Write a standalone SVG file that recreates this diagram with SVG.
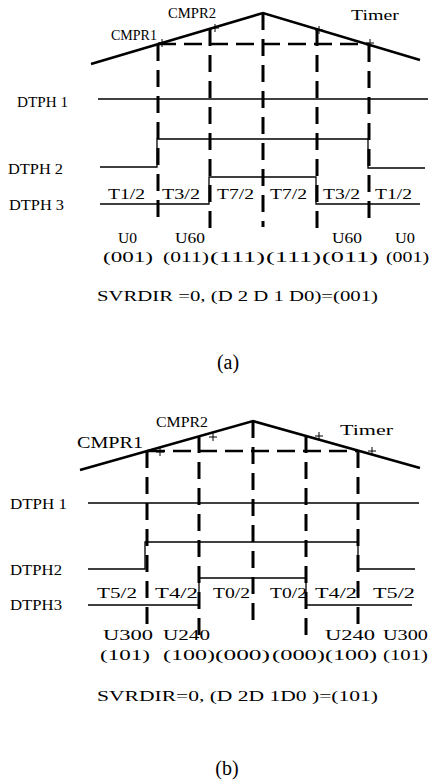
<svg xmlns="http://www.w3.org/2000/svg" width="432" height="784" viewBox="0 0 432 784">
<style>
.tri{fill:none;stroke:#000;stroke-width:2.6}
.dv{stroke:#000;stroke-width:3;stroke-dasharray:17 9;fill:none}
.dh{stroke:#000;stroke-width:2.5;stroke-dasharray:18 8;fill:none}
.sig{fill:none;stroke:#000;stroke-width:1.3}
.pl{stroke:#000;stroke-width:1;fill:none}
text{font-family:"Liberation Serif",serif;font-size:15px;fill:#000}
.cap{font-size:20px}
.big{font-size:17px}
.sm{font-size:14px}
</style>
<rect width="432" height="784" fill="#fff"/>
<g id="diagram-a">
<g id="a-timer">
<path class="tri" d="M91 64 L263 13 L420 60"/>
<path class="dh" d="M158 44 H369"/>
<path class="pl" d="M158 43 h8 M162 39 v8 M211 28 h8 M215 24 v8 M315 30 h8 M319 26 v8 M366 43 h8 M370 39 v8"/>
<text x="111" y="40" textLength="46" lengthAdjust="spacingAndGlyphs">CMPR1</text>
<text x="168" y="18" textLength="48" lengthAdjust="spacingAndGlyphs">CMPR2</text>
<text x="351" y="20" textLength="48" lengthAdjust="spacingAndGlyphs">Timer</text>
</g>
<g id="a-connectors">
<path class="dv" d="M158 44 V226"/>
<path class="dv" d="M210 29 V237"/>
<path class="dv" d="M263 13 V227"/>
<path class="dv" d="M317 29 V237"/>
<path class="dv" d="M369 45 V226"/>
</g>
<g id="a-dtph1">
<text x="17" y="107" textLength="51" lengthAdjust="spacingAndGlyphs">DTPH 1</text>
<path class="sig" d="M98 99 H428"/>
</g>
<g id="a-dtph2">
<text x="8" y="174" textLength="55" lengthAdjust="spacingAndGlyphs">DTPH 2</text>
<path class="sig" d="M100 167 H157 V139 H368 V168 H425"/>
</g>
<g id="a-dtph3">
<text x="9" y="210" textLength="55" lengthAdjust="spacingAndGlyphs">DTPH 3</text>
<path class="sig" d="M100 204 H209 V177 H316 V204 H420"/>
<text x="108" y="199" textLength="37" lengthAdjust="spacingAndGlyphs">T1/2</text>
<text x="162" y="199" textLength="38" lengthAdjust="spacingAndGlyphs">T3/2</text>
<text x="217" y="199" textLength="37" lengthAdjust="spacingAndGlyphs">T7/2</text>
<text x="270" y="199" textLength="37" lengthAdjust="spacingAndGlyphs">T7/2</text>
<text x="323" y="199" textLength="37" lengthAdjust="spacingAndGlyphs">T3/2</text>
<text x="375" y="199" textLength="37" lengthAdjust="spacingAndGlyphs">T1/2</text>
</g>
<g id="a-vectors">
<text class="sm" x="118" y="243" textLength="19" lengthAdjust="spacingAndGlyphs">U0</text>
<text class="sm" x="175" y="243" textLength="30" lengthAdjust="spacingAndGlyphs">U60</text>
<text class="sm" x="332" y="243" textLength="30" lengthAdjust="spacingAndGlyphs">U60</text>
<text class="sm" x="395" y="243" textLength="20" lengthAdjust="spacingAndGlyphs">U0</text>
<text x="103" y="262" textLength="50" lengthAdjust="spacingAndGlyphs">(001)</text>
<text x="163" y="262" textLength="46" lengthAdjust="spacingAndGlyphs">(011)</text>
<text x="210" y="262" textLength="55" lengthAdjust="spacingAndGlyphs">(111)</text>
<text x="266" y="262" textLength="55" lengthAdjust="spacingAndGlyphs">(111)</text>
<text x="322" y="262" textLength="56" lengthAdjust="spacingAndGlyphs">(011)</text>
<text x="386" y="262" textLength="43" lengthAdjust="spacingAndGlyphs">(001)</text>
<text x="97" y="301" textLength="281" lengthAdjust="spacingAndGlyphs">SVRDIR =0, (D 2 D 1 D0)=(001)</text>
</g>
<text class="cap" x="228" y="369" text-anchor="middle">(a)</text>
</g>
<g id="diagram-b">
<g id="b-timer">
<path class="tri" d="M80 470 L253 421 L420 468"/>
<path class="dh" d="M147 451 H358"/>
<path class="pl" d="M156 452 h8 M160 448 v8 M209 437 h8 M213 433 v8 M315 436 h8 M319 432 v8 M368 451 h8 M372 447 v8"/>
<text class="big" x="77" y="448" textLength="66" lengthAdjust="spacingAndGlyphs">CMPR1</text>
<text x="156" y="427" textLength="52" lengthAdjust="spacingAndGlyphs">CMPR2</text>
<text x="340" y="435" textLength="53" lengthAdjust="spacingAndGlyphs">Timer</text>
</g>
<g id="b-connectors">
<path class="dv" d="M147 451 V627"/>
<path class="dv" d="M199 436 V637"/>
<path class="dv" d="M253 421 V628"/>
<path class="dv" d="M306 436 V637"/>
<path class="dv" d="M358 451 V627"/>
</g>
<g id="b-dtph1">
<text x="10" y="509" textLength="57" lengthAdjust="spacingAndGlyphs">DTPH 1</text>
<path class="sig" d="M88 503 H419"/>
</g>
<g id="b-dtph2">
<text x="10" y="575" textLength="52" lengthAdjust="spacingAndGlyphs">DTPH2</text>
<path class="sig" d="M88 569 H145 V542 H358 V569 H415"/>
</g>
<g id="b-dtph3">
<text x="10" y="610" textLength="52" lengthAdjust="spacingAndGlyphs">DTPH3</text>
<path class="sig" d="M88 605 H199 V578 H306 V605 H412"/>
<text x="97" y="598" textLength="40" lengthAdjust="spacingAndGlyphs">T5/2</text>
<text x="155" y="598" textLength="43" lengthAdjust="spacingAndGlyphs">T4/2</text>
<text x="213" y="598" textLength="37" lengthAdjust="spacingAndGlyphs">T0/2</text>
<text x="270" y="598" textLength="37" lengthAdjust="spacingAndGlyphs">T0/2</text>
<text x="315" y="598" textLength="42" lengthAdjust="spacingAndGlyphs">T4/2</text>
<text x="373" y="598" textLength="42" lengthAdjust="spacingAndGlyphs">T5/2</text>
</g>
<g id="b-vectors">
<text x="103" y="640" textLength="50" lengthAdjust="spacingAndGlyphs">U300</text>
<text x="163" y="640" textLength="47" lengthAdjust="spacingAndGlyphs">U240</text>
<text x="325" y="640" textLength="50" lengthAdjust="spacingAndGlyphs">U240</text>
<text x="383" y="640" textLength="45" lengthAdjust="spacingAndGlyphs">U300</text>
<text x="100" y="660" textLength="50" lengthAdjust="spacingAndGlyphs">(101)</text>
<text x="163" y="660" textLength="52" lengthAdjust="spacingAndGlyphs">(100)</text>
<text x="215" y="660" textLength="55" lengthAdjust="spacingAndGlyphs">(000)</text>
<text x="272" y="660" textLength="53" lengthAdjust="spacingAndGlyphs">(000)</text>
<text x="325" y="660" textLength="52" lengthAdjust="spacingAndGlyphs">(100)</text>
<text x="383" y="660" textLength="45" lengthAdjust="spacingAndGlyphs">(101)</text>
<text x="97" y="701" textLength="281" lengthAdjust="spacingAndGlyphs">SVRDIR=0, (D 2D 1D0 )=(101)</text>
</g>
<text class="cap" x="227" y="775" text-anchor="middle">(b)</text>
</g>
</svg>
